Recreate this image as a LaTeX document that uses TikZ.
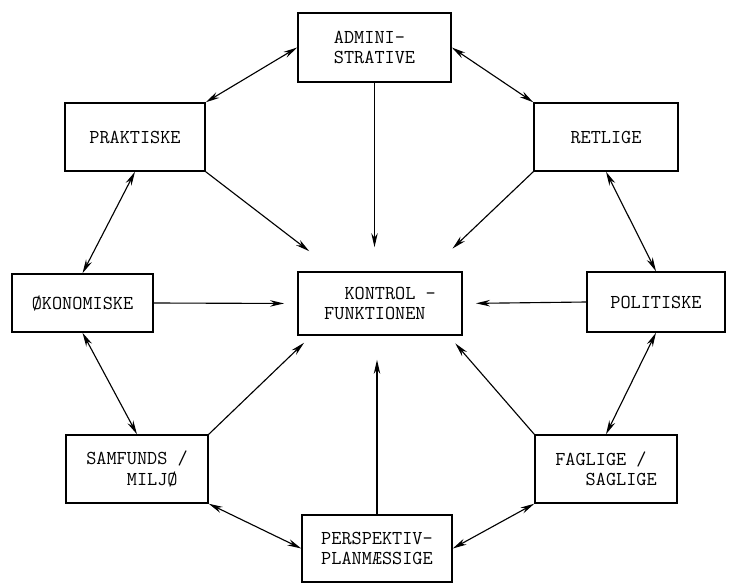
\documentclass[tikz,border=0pt]{standalone}
\usepackage{fontspec}
\usetikzlibrary{arrows.meta}

\begin{document}
\begin{tikzpicture}[x=0.025cm, y=-0.025cm]
        \tikzset{box/.style={draw, line width=1pt, align=left, inner sep=0pt,
            font=\ttfamily\fontsize{14}{14.5}\selectfont},
          link/.style={line width=0.8pt, {Stealth[length=10pt,width=4.6pt]}-{Stealth[length=10pt,width=4.6pt]}},
          tocenter/.style={line width=0.8pt, -{Stealth[length=10pt,width=4.6pt]}}}

        %% Fix the page to the size of the scan
        \useasboundingbox (0,0) rectangle (734,585);

        %% The ring of boxes, sizes
        \node[box, minimum width=3.83cm, minimum height=1.73cm] (adm) at (374.5,47.5) {ADMINI-\\STRATIVE};
        \node[box, minimum width=3.5cm,  minimum height=1.7cm]  (prak) at (135,137) {PRAKTISKE};
        \node[box, minimum width=3.6cm,  minimum height=1.7cm]  (ret) at (606,137) {RETLIGE};
        \node[box, minimum width=3.53cm, minimum height=1.45cm] (oko) at (82.5,303) {ØKONOMISKE};
        \node[box, minimum width=3.45cm, minimum height=1.5cm]  (pol) at (656,302) {POLITISKE};
        \node[box, minimum width=3.55cm, minimum height=1.7cm]  (sam) at (137,469) {SAMFUNDS /\\\phantom{SAMF}MILJØ};
        \node[box, minimum width=3.55cm, minimum height=1.7cm]  (fag) at (606,469) {FAGLIGE /\\\phantom{FAG}SAGLIGE};
        \node[box, minimum width=3.75cm, minimum height=1.68cm] (per) at (377,548.5) {PERSPEKTIV-\\PLANMÆSSIGE};

        %% The box in the middle
        \node[box, minimum width=4.1cm, minimum height=1.58cm] (kon) at (380,303.5) {\phantom{FU}KONTROL -\\FUNKTIONEN};

        %% Neighbours talk both ways
        \foreach \a/\b in {adm.west/prak.north east, adm.east/ret.north west,
          prak.south/oko.north, ret.south/pol.north,
          oko.south/sam.north, pol.south/fag.north,
          sam.south east/per.west, fag.south west/per.east}
          \draw[link] (\a) -- (\b);

        %% Everything points into the control box
        \draw[tocenter, shorten >=0.6cm] (adm.south) -- (adm.south |- kon.north);
        \draw[tocenter, shorten >=0.6cm] (per.north) -- (per.north |- kon.south);
        \draw[tocenter, shorten >=0.33cm] (oko.east) -- (kon.west);
        \draw[tocenter, shorten >=0.33cm] (pol.west) -- (kon.east);
        \draw[tocenter, shorten >=0.82cm] (prak.south east) -- ([xshift=0.95cm]kon.north west);
        \draw[tocenter, shorten >=0.82cm] (ret.south west) -- ([xshift=-0.85cm]kon.north east);
        \draw[tocenter, shorten >=0.25cm] (sam.north east) -- ([xshift=0.35cm]kon.south west);
        \draw[tocenter, shorten >=0.25cm] (fag.north west) -- ([xshift=-0.35cm]kon.south east);

      \end{tikzpicture}
\end{document}
